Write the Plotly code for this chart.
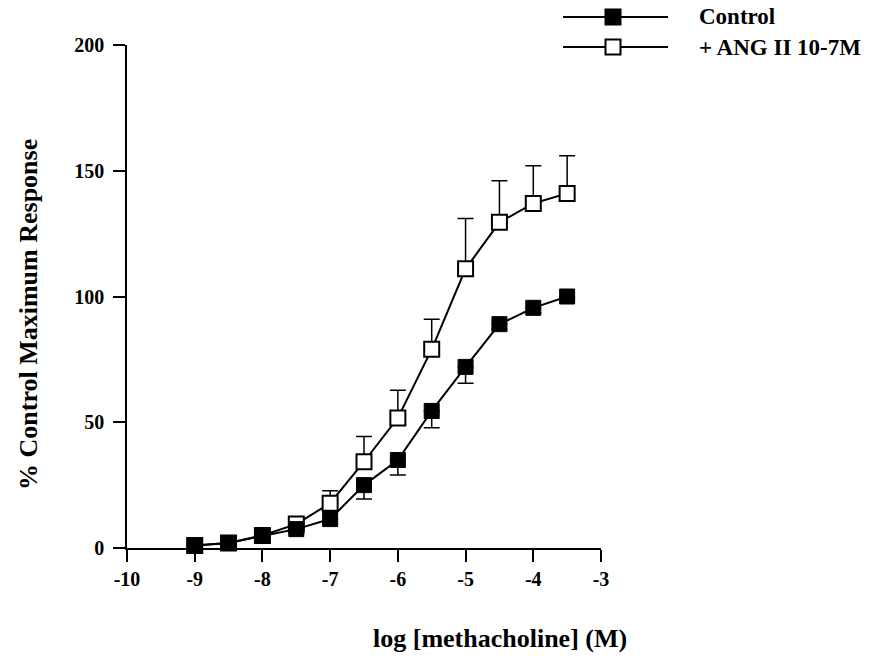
import plotly.graph_objects as go

# log concentration of methacholine (M)
log_conc = [-9, -8.5, -8, -7.5, -7, -6.5, -6, -5.5, -5, -4.5, -4, -3.5]

# % of control maximum response
control = [1, 2, 4.8, 7.5, 11.5, 25, 35, 54.5, 72, 89, 95.5, 100]
control_err = [0.5, 0.5, 1, 1.5, 2, 5.5, 6, 6.7, 6.5, 2, 2, 1]

ang2 = [1, 2, 5, 9.5, 17.8, 34.3, 51.7, 79, 111, 129.5, 137, 141]
ang2_err = [0.5, 0.5, 1, 1.5, 5, 10, 11, 12, 20, 16.5, 15, 15]

x_ticks = [-10, -9, -8, -7, -6, -5, -4, -3]
x_tick_text = ["-10", "-9", "-8", "-7", "-6", "-5", "-4", "-3"]
y_ticks = [0, 50, 100, 150, 200]
y_tick_text = ["0", "50", "100", "150", "200"]

series_names = ["Control", "+ ANG II 10-7M"]

W, H = 877, 661
M_L, M_R, M_T, M_B = 127, W - 601, 45, H - 548
PW, PH = W - M_L - M_R, H - M_T - M_B

FONT = "Liberation Serif"
INK = "black"


def px_x(X):
    return (X - M_L) / PW


def px_y(Y):
    return (H - M_B - Y) / PH


def bold(s):
    return "<b>" + s + "</b>"


fig = go.Figure()

# + ANG II: open squares, error bars pointing up
fig.add_trace(go.Scatter(
    x=log_conc, y=ang2, mode="lines+markers", name=series_names[1],
    line=dict(color=INK, width=2),
    marker=dict(symbol="square", size=15, color="white", line=dict(color=INK, width=2)),
    error_y=dict(type="data", symmetric=False, array=ang2_err,
                 arrayminus=[0] * len(ang2), color=INK, thickness=1.5, width=8),
    showlegend=False, cliponaxis=False,
))

# control: filled squares, error bars pointing down
fig.add_trace(go.Scatter(
    x=log_conc, y=control, mode="lines+markers", name=series_names[0],
    line=dict(color=INK, width=2),
    marker=dict(symbol="square", size=15, color=INK, line=dict(color=INK, width=1)),
    error_y=dict(type="data", symmetric=False, array=[0] * len(control),
                 arrayminus=control_err, color=INK, thickness=1.5, width=8),
    showlegend=False, cliponaxis=False,
))

# hand-built legend in the top-right corner
shapes = []
annotations = []
legend_rows = [(17, INK), (47, "white")]
for (Y, fill), label in zip(legend_rows, series_names):
    shapes.append(dict(type="line", xref="paper", yref="paper",
                       x0=px_x(563), x1=px_x(668), y0=px_y(Y), y1=px_y(Y),
                       line=dict(color=INK, width=2)))
    shapes.append(dict(type="rect", xref="paper", yref="paper",
                       xsizemode="pixel", ysizemode="pixel",
                       xanchor=px_x(613), yanchor=px_y(Y),
                       x0=-7.5, x1=7.5, y0=-7.5, y1=7.5,
                       fillcolor=fill, line=dict(color=INK, width=2)))
    annotations.append(dict(text=bold(label), xref="paper", yref="paper",
                            x=px_x(697), y=px_y(Y), xanchor="left", yanchor="middle",
                            showarrow=False, font=dict(family=FONT, size=23, color=INK)))

# axis titles
annotations.append(dict(text=bold("log [methacholine] (M)"), xref="paper", yref="paper",
                        x=px_x(500), y=px_y(638), xanchor="center", yanchor="middle",
                        showarrow=False, font=dict(family=FONT, size=26, color=INK)))
annotations.append(dict(text=bold("% Control Maximum Response"), xref="paper", yref="paper",
                        x=px_x(28), y=px_y(315), xanchor="center", yanchor="middle",
                        textangle=-90, showarrow=False,
                        font=dict(family=FONT, size=26, color=INK)))

tick_font = dict(family=FONT, size=20, color=INK, weight="bold")

fig.update_layout(
    width=W, height=H,
    margin=dict(l=M_L, r=M_R, t=M_T, b=M_B, pad=0),
    paper_bgcolor="white", plot_bgcolor="white",
    font=dict(family=FONT, size=18, color=INK),
    shapes=shapes, annotations=annotations,
    xaxis=dict(range=[-10, -3], tickvals=x_ticks, ticktext=x_tick_text,
               showline=True, linecolor=INK, linewidth=1.5,
               ticks="outside", ticklen=12, tickwidth=1.5, tickcolor=INK,
               showgrid=False, zeroline=False, tickfont=tick_font),
    yaxis=dict(range=[0, 200], tickvals=y_ticks, ticktext=y_tick_text,
               showline=True, linecolor=INK, linewidth=1.5,
               ticks="outside", ticklen=12, tickwidth=1.5, tickcolor=INK,
               ticklabelstandoff=5,
               showgrid=False, zeroline=False, tickfont=tick_font),
)

fig.write_html("out.html")
